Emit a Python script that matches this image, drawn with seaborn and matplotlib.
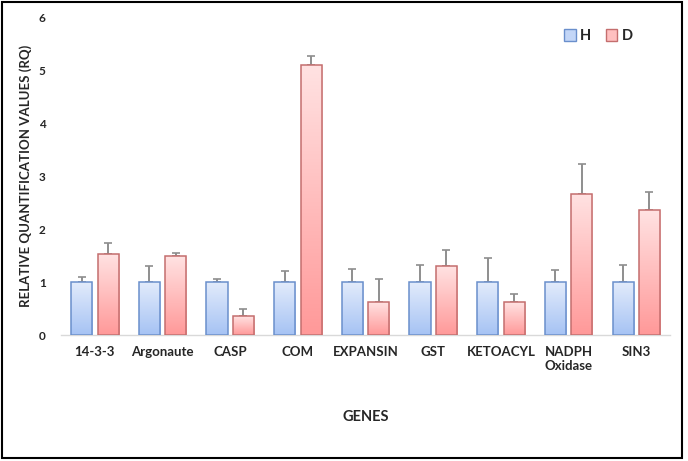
import numpy as np
import pandas as pd
import matplotlib
matplotlib.use("Agg")
import matplotlib.pyplot as plt
import seaborn as sns
from matplotlib.colors import LinearSegmentedColormap
from matplotlib.patches import Rectangle

genes = ["14-3-3", "Argonaute", "CASP", "COM", "EXPANSIN", "GST",
         "KETOACYL", "NADPH\nOxidase", "SIN3"]
h_values = [1.0, 1.0, 1.0, 1.0, 1.0, 1.0, 1.0, 1.0, 1.0]
h_errors = [0.10, 0.31, 0.06, 0.20, 0.25, 0.33, 0.45, 0.22, 0.33]
d_values = [1.52, 1.49, 0.35, 5.09, 0.62, 1.30, 0.62, 2.67, 2.35]
d_errors = [0.22, 0.06, 0.15, 0.18, 0.43, 0.30, 0.15, 0.56, 0.35]
groups = ["H", "D"]

df = pd.DataFrame({
    "gene": genes * 2,
    "group": ["H"] * len(genes) + ["D"] * len(genes),
    "rq": h_values + d_values,
})

sns.set_theme(style="white")
plt.rcParams['font.family'] = ['Lato', 'DejaVu Sans']

fig = plt.figure(figsize=(6.88, 4.61), dpi=100)
ax = fig.add_axes([0.0887, 0.2733, 0.8853, 0.6897])

edge = {"H": "#6a8fcc", "D": "#c46e6e"}
top_col = {"H": "#e2ebfb", "D": "#ffe2e2"}
bot_col = {"H": "#a6c3f4", "D": "#ff9999"}

sns.barplot(data=df, x="gene", y="rq", hue="group", hue_order=groups,
            palette={"H": bot_col["H"], "D": bot_col["D"]},
            width=0.78, gap=0.2, errorbar=None, ax=ax, legend=False)

# gradient fill + error bars (upper half only)
for cont, g, errs in zip(ax.containers, groups, [h_errors, d_errors]):
    cmap = LinearSegmentedColormap.from_list(g, [bot_col[g], top_col[g]])
    xs, ys = [], []
    for p in cont.patches:
        x0, w, h = p.get_x(), p.get_width(), p.get_height()
        p.set_facecolor("none")
        p.set_edgecolor(edge[g])
        p.set_linewidth(1.1)
        p.set_zorder(3)
        grad = np.linspace(0, 1, 100).reshape(-1, 1)
        im = ax.imshow(grad, cmap=cmap, origin="lower", aspect="auto",
                       extent=[x0, x0 + w, 0, h], zorder=2)
        im.set_clip_path(p)
        xs.append(x0 + w / 2)
        ys.append(h)
    ax.errorbar(xs, ys, yerr=[np.zeros(len(errs)), errs], fmt="none",
                ecolor="#8e8e8e", elinewidth=1.4, capsize=3, capthick=1.2,
                zorder=1)

ax.set_xlim(-0.5, len(genes) - 0.5)
ax.set_ylim(0, 6)
ax.set_yticks(range(7))
ax.tick_params(axis="y", labelsize=8.5, length=0, pad=11)
ax.tick_params(axis="x", labelsize=9.5, length=0, pad=8)
for lab in ax.get_xticklabels() + ax.get_yticklabels():
    lab.set_fontweight("bold")

for s in ["top", "right", "left"]:
    ax.spines[s].set_visible(False)
ax.spines["bottom"].set_color("#d9d9d9")
ax.spines["bottom"].set_linewidth(1)

ax.set_xlabel("GENES", fontsize=10.5, fontweight="bold", labelpad=27)
ax.set_ylabel("RELATIVE QUANTIFICATION VALUES (RQ)", fontsize=9.5,
              fontweight="bold", labelpad=5)

handles = [Rectangle((0, 0), 1, 1, facecolor="#c3d6f7", edgecolor=edge["H"]),
           Rectangle((0, 0), 1, 1, facecolor="#ffc0c0", edgecolor=edge["D"])]
leg = ax.legend(handles, groups, ncol=2, frameon=False, loc="center",
                bbox_to_anchor=(0.882, 0.94), handlelength=0.8,
                handleheight=0.8, handletextpad=0.3, columnspacing=1.0,
                prop={"weight": "bold", "size": 10.5})

fig.patches.append(Rectangle((2 / 688, 3 / 461), 680 / 688, 456 / 461,
                             transform=fig.transFigure, fill=False,
                             edgecolor="black", linewidth=1.5))

fig.savefig("out.png", dpi=100)
